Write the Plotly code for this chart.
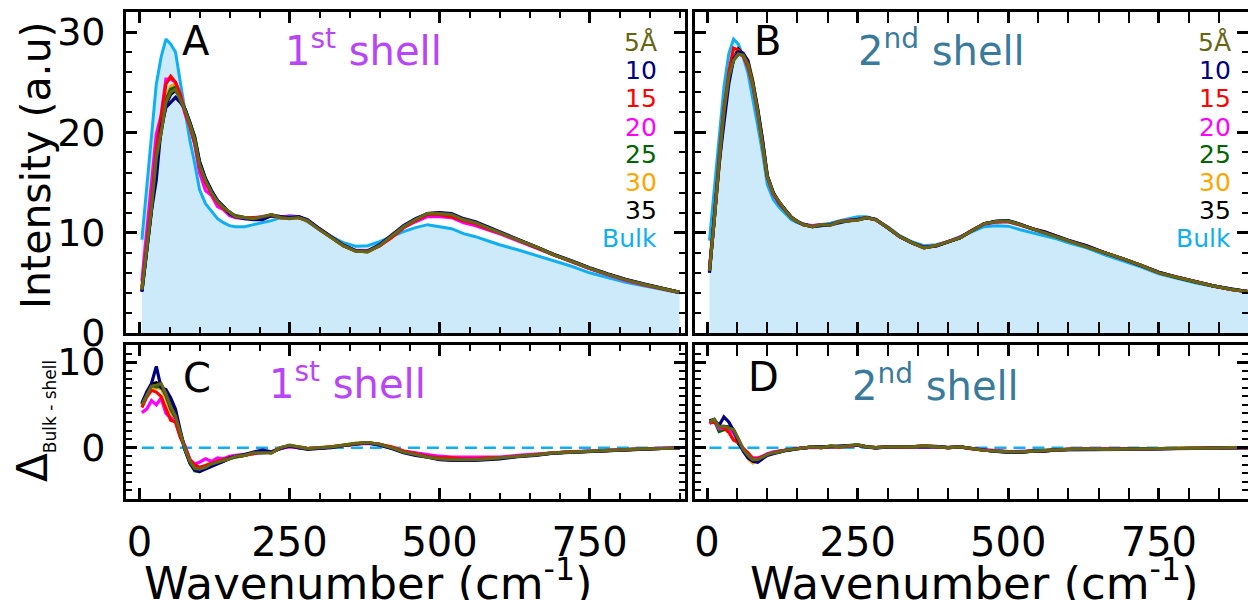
import plotly.graph_objects as go

# ---------------- data ----------------
wavenumber = [4, 12, 20, 28, 36, 44, 52, 60, 68, 76, 84, 92, 100, 110, 120, 130, 140, 150, 160, 175,
              190, 205, 220, 235, 250, 265, 280, 300, 320, 340, 360, 380, 400, 420, 440, 460, 480, 500,
              520, 540, 560, 580, 600, 630, 660, 690, 720, 750, 780, 810, 840, 870, 900]

shell_labels = ["5Å", "10", "15", "20", "25", "30", "35"]
shell_colors = ["#666614", "#000080", "#ff0000", "#ff00ff", "#006400", "#ffa500", "#000000"]
bulk_label = "Bulk"
bulk_color = "#0fb0f2"

# 1st shell spectra (panel A)
bulk_1 = [9.3, 14.5, 19.7, 24.8, 27.5, 29.3, 28.8, 28.0, 25.0, 22.0, 19.2, 16.9, 14.3, 12.9, 12.1, 11.4, 11.0, 10.7, 10.6, 10.6,
          10.8, 11.0, 11.2, 11.5, 11.7, 11.6, 11.1, 10.3, 9.6, 9.0, 8.65, 8.7, 9.1, 9.6, 10.1, 10.5, 10.8, 10.6,
          10.4, 9.9, 9.6, 9.2, 8.8, 8.3, 7.75, 7.2, 6.65, 6.0, 5.5, 5.05, 4.7, 4.35, 4.0]
s1_05 = [4.3, 8.3, 12.5, 17.5, 20.0, 23.0, 24.0, 24.3, 23.3, 22.2, 20.8, 19.3, 16.8, 15.2, 14.0, 13.1, 12.5, 12.0, 11.6, 11.5,
         11.4, 11.6, 11.8, 11.5, 11.4, 11.5, 11.2, 10.3, 9.5, 8.7, 8.15, 8.1, 8.7, 9.6, 10.6, 11.3, 11.9, 11.9,
         11.8, 11.3, 11.0, 10.5, 10.0, 9.3, 8.6, 7.8, 7.15, 6.45, 5.85, 5.3, 4.85, 4.45, 4.05]
s1_10 = [4.1, 8.0, 12.2, 15.3, 20.5, 22.5, 23.0, 23.5, 23.0, 22.3, 21.0, 19.5, 17.1, 15.4, 14.2, 13.2, 12.6, 11.9, 11.6, 11.4,
         11.3, 11.3, 11.7, 11.6, 11.5, 11.6, 11.3, 10.4, 9.6, 8.75, 8.2, 8.15, 8.8, 9.7, 10.7, 11.4, 11.9, 12.0,
         11.9, 11.4, 11.1, 10.6, 10.1, 9.35, 8.65, 7.85, 7.2, 6.5, 5.9, 5.35, 4.9, 4.45, 4.05]
s1_15 = [4.6, 8.6, 13.0, 18.3, 21.5, 24.8, 25.6, 25.0, 23.8, 22.0, 20.6, 18.9, 16.6, 15.0, 13.9, 13.0, 12.4, 11.9, 11.6, 11.5,
         11.5, 11.4, 11.7, 11.5, 11.5, 11.5, 11.2, 10.35, 9.5, 8.7, 8.2, 8.15, 8.7, 9.5, 10.5, 11.2, 11.8, 11.8,
         11.6, 11.2, 10.9, 10.4, 10.0, 9.3, 8.55, 7.8, 7.1, 6.45, 5.85, 5.3, 4.85, 4.45, 4.05]
s1_20 = [5.2, 10.0, 14.2, 19.8, 21.7, 25.3, 25.3, 25.0, 23.6, 21.8, 20.6, 18.8, 16.0, 14.2, 13.7, 12.6, 12.3, 11.7, 11.5, 11.4,
         11.5, 11.6, 11.7, 11.6, 11.6, 11.6, 11.2, 10.3, 9.55, 8.75, 8.2, 8.2, 8.7, 9.6, 10.5, 11.1, 11.6, 11.6,
         11.5, 11.0, 10.7, 10.3, 9.9, 9.2, 8.5, 7.75, 7.1, 6.4, 5.8, 5.25, 4.8, 4.4, 4.05]
s1_25 = [4.2, 8.4, 12.4, 17.7, 20.3, 23.2, 24.3, 24.5, 23.5, 22.2, 21.0, 19.6, 17.1, 15.3, 14.1, 13.2, 12.6, 12.0, 11.7, 11.5,
         11.4, 11.5, 11.7, 11.6, 11.5, 11.6, 11.2, 10.35, 9.55, 8.75, 8.2, 8.15, 8.75, 9.65, 10.6, 11.3, 11.85, 11.9,
         11.75, 11.3, 10.95, 10.5, 10.0, 9.3, 8.6, 7.8, 7.15, 6.45, 5.85, 5.3, 4.85, 4.45, 4.05]
s1_30 = [4.3, 8.5, 12.8, 17.8, 20.6, 23.5, 24.6, 24.8, 23.6, 22.0, 20.6, 19.0, 16.7, 15.0, 13.8, 13.0, 12.4, 11.9, 11.6, 11.5,
         11.4, 11.5, 11.7, 11.5, 11.5, 11.5, 11.2, 10.3, 9.5, 8.7, 8.15, 8.1, 8.7, 9.6, 10.6, 11.35, 11.9, 11.95,
         11.8, 11.35, 11.0, 10.5, 10.05, 9.3, 8.6, 7.8, 7.15, 6.45, 5.85, 5.3, 4.85, 4.45, 4.05]
s1_35 = [4.2, 8.3, 12.3, 17.2, 20.2, 22.8, 23.8, 24.2, 23.4, 22.3, 20.9, 19.3, 16.9, 15.2, 14.0, 13.1, 12.5, 12.0, 11.6, 11.5,
         11.4, 11.5, 11.8, 11.5, 11.5, 11.6, 11.2, 10.35, 9.5, 8.7, 8.2, 8.1, 8.7, 9.6, 10.6, 11.3, 11.9, 11.95,
         11.8, 11.3, 11.0, 10.5, 10.0, 9.3, 8.6, 7.8, 7.15, 6.45, 5.85, 5.3, 4.85, 4.45, 4.05]

# 2nd shell spectra (panel B)
bulk_2 = [9.2, 14.5, 19.5, 24.5, 27.8, 29.3, 28.8, 27.5, 25.9, 23.4, 20.7, 18.0, 14.8, 13.3, 12.5, 11.9, 11.3, 11.0, 10.8, 10.7,
          10.8, 10.95, 11.2, 11.4, 11.6, 11.6, 11.3, 10.6, 9.7, 9.1, 8.7, 8.8, 9.1, 9.6, 10.1, 10.6, 10.7, 10.65,
          10.3, 10.0, 9.7, 9.4, 9.0, 8.5, 7.8, 7.2, 6.6, 5.9, 5.45, 5.0, 4.65, 4.35, 4.1]
s2_05 = [6.2, 11.2, 17.1, 22.0, 25.5, 27.2, 27.8, 27.7, 26.8, 24.8, 22.1, 19.1, 15.6, 13.9, 13.0, 12.2, 11.5, 11.1, 10.8, 10.6,
         10.8, 10.75, 11.1, 11.2, 11.25, 11.5, 11.3, 10.5, 9.6, 9.0, 8.5, 8.7, 9.1, 9.5, 10.2, 10.9, 11.1, 11.15,
         10.8, 10.4, 10.05, 9.65, 9.2, 8.65, 8.0, 7.4, 6.75, 6.0, 5.55, 5.1, 4.7, 4.35, 4.1]
s2_10 = [6.0, 11.3, 16.9, 20.9, 24.8, 27.3, 28.0, 27.9, 27.1, 25.0, 22.4, 19.3, 15.7, 14.0, 13.0, 12.25, 11.55, 11.1, 10.85, 10.6,
         10.7, 10.8, 11.0, 11.2, 11.3, 11.5, 11.35, 10.5, 9.6, 9.0, 8.55, 8.65, 9.1, 9.5, 10.2, 10.9, 11.15, 11.2,
         10.85, 10.4, 10.1, 9.65, 9.25, 8.7, 8.0, 7.4, 6.75, 6.05, 5.55, 5.1, 4.7, 4.4, 4.1]
s2_15 = [6.3, 11.4, 17.0, 22.2, 26.0, 28.4, 28.2, 27.6, 26.5, 24.7, 22.0, 19.0, 15.6, 13.9, 12.9, 12.2, 11.5, 11.1, 10.8, 10.6,
         10.8, 10.8, 11.1, 11.2, 11.3, 11.5, 11.3, 10.5, 9.6, 9.0, 8.5, 8.7, 9.1, 9.5, 10.25, 10.9, 11.1, 11.1,
         10.8, 10.4, 10.1, 9.65, 9.2, 8.7, 8.0, 7.4, 6.75, 6.0, 5.55, 5.1, 4.7, 4.35, 4.1]
s2_20 = [6.4, 11.4, 17.3, 22.2, 25.6, 27.6, 27.9, 27.6, 26.6, 24.6, 21.9, 19.0, 15.5, 13.8, 12.9, 12.2, 11.5, 11.1, 10.8, 10.7,
         10.8, 10.8, 11.1, 11.25, 11.3, 11.5, 11.3, 10.5, 9.6, 9.0, 8.55, 8.7, 9.1, 9.55, 10.2, 10.85, 11.05, 11.1,
         10.75, 10.4, 10.05, 9.65, 9.2, 8.65, 8.0, 7.4, 6.75, 6.0, 5.55, 5.1, 4.7, 4.35, 4.1]
s2_25 = [6.2, 11.3, 17.6, 22.4, 25.4, 27.2, 27.8, 27.7, 26.8, 24.9, 22.1, 19.1, 15.6, 13.9, 13.0, 12.2, 11.5, 11.1, 10.8, 10.6,
         10.8, 10.8, 11.1, 11.2, 11.3, 11.5, 11.3, 10.5, 9.6, 9.0, 8.5, 8.7, 9.1, 9.5, 10.2, 10.9, 11.1, 11.15,
         10.8, 10.4, 10.05, 9.65, 9.2, 8.65, 8.0, 7.4, 6.75, 6.0, 5.55, 5.1, 4.7, 4.35, 4.1]
s2_30 = [6.2, 11.3, 17.0, 22.1, 25.6, 27.4, 27.9, 27.8, 27.2, 25.2, 22.2, 19.1, 15.6, 13.9, 13.0, 12.2, 11.5, 11.1, 10.8, 10.6,
         10.8, 10.8, 11.1, 11.2, 11.3, 11.5, 11.3, 10.5, 9.6, 9.0, 8.5, 8.7, 9.1, 9.5, 10.2, 10.9, 11.1, 11.15,
         10.8, 10.4, 10.05, 9.65, 9.2, 8.65, 8.0, 7.4, 6.75, 6.0, 5.55, 5.1, 4.7, 4.35, 4.1]
s2_35 = [6.1, 11.2, 17.0, 22.0, 25.4, 27.3, 28.3, 27.8, 26.9, 24.9, 22.2, 19.2, 15.6, 13.9, 13.0, 12.2, 11.5, 11.1, 10.8, 10.6,
         10.75, 10.8, 11.1, 11.2, 11.3, 11.5, 11.3, 10.5, 9.6, 9.0, 8.55, 8.7, 9.1, 9.5, 10.2, 10.9, 11.1, 11.15,
         10.8, 10.4, 10.05, 9.65, 9.2, 8.65, 8.0, 7.4, 6.75, 6.05, 5.55, 5.1, 4.7, 4.35, 4.1]

shells_1 = [s1_05, s1_10, s1_15, s1_20, s1_25, s1_30, s1_35]
shells_2 = [s2_05, s2_10, s2_15, s2_20, s2_25, s2_30, s2_35]

x_ticks = [0, 250, 500, 750]
y_ticks_top = [0, 10, 20, 30]
y_ticks_bottom = [0, 10]

# ---------------- figure ----------------
W, H = 1248, 600
FONT = "DejaVu Sans"
fig = go.Figure()

def px_x(p):
    return p / W

def px_y(p):
    return 1 - p / H

panels = {
    "A": dict(xa="x", ya="y"),
    "B": dict(xa="x2", ya="y2"),
    "C": dict(xa="x3", ya="y3"),
    "D": dict(xa="x4", ya="y4"),
}

draw_order = [6, 5, 4, 3, 2, 1, 0]  # 35 ... 5Å (5Å on top)

for key, bulk, shells in (("A", bulk_1, shells_1), ("B", bulk_2, shells_2)):
    p = panels[key]
    fig.add_trace(go.Scatter(x=wavenumber, y=bulk, mode="lines", xaxis=p["xa"], yaxis=p["ya"],
                             line=dict(color=bulk_color, width=3), fill="tozeroy",
                             fillcolor="#cdeafa", showlegend=False, name=bulk_label))
    for i in draw_order:
        fig.add_trace(go.Scatter(x=wavenumber, y=shells[i], mode="lines", xaxis=p["xa"], yaxis=p["ya"],
                                 line=dict(color=shell_colors[i], width=3.2), showlegend=False,
                                 name=shell_labels[i]))

for key, bulk, shells in (("C", bulk_1, shells_1), ("D", bulk_2, shells_2)):
    p = panels[key]
    zero = [b - b for b in bulk]
    fig.add_trace(go.Scatter(x=wavenumber, y=zero, mode="lines", xaxis=p["xa"], yaxis=p["ya"],
                             line=dict(color=bulk_color, width=2.5, dash="12px,7px"), showlegend=False))
    for i in draw_order:
        delta = [b - s for b, s in zip(bulk, shells[i])]
        fig.add_trace(go.Scatter(x=wavenumber, y=delta, mode="lines", xaxis=p["xa"], yaxis=p["ya"],
                                 line=dict(color=shell_colors[i], width=3.2), showlegend=False,
                                 name=shell_labels[i]))

xtickfont = dict(family=FONT, size=40, color="black")
ytickfont = dict(family=FONT, size=38, color="black")

def xaxis(domain, rng, labels):
    return dict(domain=domain, range=rng, tickvals=x_ticks, ticktext=[str(v) for v in x_ticks],
                showticklabels=labels, ticks="inside", ticklen=11, tickwidth=2.5, tickcolor="black",
                showline=True, linecolor="black", linewidth=2.8, mirror="allticks", automargin=False,
                showgrid=False, zeroline=False, tickfont=xtickfont, ticklabelstandoff=6,
                minor=dict(dtick=50, tick0=0, ticks="inside", ticklen=6, tickwidth=1.5, tickcolor="black",
                           showgrid=False))

def yaxis(domain, rng, ticks, minor_dtick, labels, mirror="allticks"):
    return dict(domain=domain, range=rng, tickvals=ticks, ticktext=[str(v) for v in ticks],
                showticklabels=labels, ticks="inside", ticklen=11, tickwidth=2.5, tickcolor="black",
                showline=True, linecolor="black", linewidth=2.8, mirror=mirror, automargin=False,
                showgrid=False, zeroline=False, tickfont=ytickfont, ticklabelstandoff=10,
                minor=dict(dtick=minor_dtick, tick0=0, ticks="inside", ticklen=6, tickwidth=1.5,
                           tickcolor="black", showgrid=False))

def right_ticks(overlay, anchor, rng, ticks, minor_dtick):
    # ticks on the (cut-off) right edge, without a visible spine
    return dict(overlaying=overlay, anchor=anchor, side="right", range=rng, tickvals=ticks,
                showticklabels=False, ticks="inside", ticklen=11, tickwidth=2.5, tickcolor="black",
                showline=False, showgrid=False, zeroline=False, automargin=False,
                minor=dict(dtick=minor_dtick, tick0=0, ticks="inside", ticklen=6, tickwidth=1.5,
                           tickcolor="black", showgrid=False))

left_dom = [px_x(126), px_x(685)]
right_dom = [px_x(695), 1.0]
top_dom = [px_y(333), px_y(12)]
bot_dom = [px_y(499), px_y(345)]
left_rng = [-22.5, 909]
right_rng = [-20, 898]

fig.update_layout(
    width=W, height=H, margin=dict(l=0, r=0, t=0, b=0, autoexpand=False),
    paper_bgcolor="white", plot_bgcolor="white", showlegend=False,
    font=dict(family=FONT, color="black"),
    xaxis=dict(**xaxis(left_dom, left_rng, False), anchor="y"),
    yaxis=dict(**yaxis(top_dom, [0, 32], y_ticks_top, 2, True), anchor="x"),
    xaxis2=dict(**xaxis(right_dom, right_rng, False), anchor="y2"),
    yaxis2=dict(**yaxis(top_dom, [0, 32], y_ticks_top, 2, False, mirror=False), anchor="x2"),
    xaxis3=dict(**xaxis(left_dom, left_rng, True), anchor="y3"),
    yaxis3=dict(**yaxis(bot_dom, [-6, 12], y_ticks_bottom, 1, True), anchor="x3"),
    xaxis4=dict(**xaxis(right_dom, right_rng, True), anchor="y4"),
    yaxis4=dict(**yaxis(bot_dom, [-6, 12], y_ticks_bottom, 1, False, mirror=False), anchor="x4"),
    yaxis5=right_ticks("y2", "x2", [0, 32], y_ticks_top, 2),
    yaxis6=right_ticks("y4", "x4", [-6, 12], y_ticks_bottom, 1),
)

# invisible carrier traces so that the right-edge tick axes are drawn
fig.add_trace(go.Scatter(x=wavenumber[:1], y=[None], xaxis="x2", yaxis="y5", mode="lines",
                         showlegend=False, hoverinfo="skip"))
fig.add_trace(go.Scatter(x=wavenumber[:1], y=[None], xaxis="x4", yaxis="y6", mode="lines",
                         showlegend=False, hoverinfo="skip"))

purple = "#b846f4"
teal = "#3a7b9c"
ann = []

def text(x, y, s, size, color="black", xanchor="center", angle=0):
    ann.append(dict(x=px_x(x), y=px_y(y), xref="paper", yref="paper", text=s, showarrow=False,
                    xanchor=xanchor, yanchor="middle", textangle=angle,
                    font=dict(family=FONT, size=size, color=color)))

# panel letters and shell titles
text(196, 41, "A", 40)
text(767, 41, "B", 40)
text(197, 378, "C", 40)
text(763, 377, "D", 40)
text(363, 48, "1<sup>st</sup> shell", 40, purple)
text(941, 48, "2<sup>nd</sup> shell", 40, teal)
text(347, 381, "1<sup>st</sup> shell", 40, purple)
text(935, 383, "2<sup>nd</sup> shell", 40, teal)

# legend text columns
leg_y = [43, 70, 98, 127, 155, 182, 210, 238]
for xr in (659, 1233):
    for i, lab in enumerate(shell_labels):
        text(xr, leg_y[i], lab, 25, shell_colors[i], xanchor="right")
    text(xr, leg_y[7], bulk_label, 25, bulk_color, xanchor="right")

# axis titles
text(36, 165, "Intensity (a.u)", 41, angle=-90)
text(34, 421, "Δ<sub><span style='font-size:17px'>Bulk - shell</span></sub>", 42, angle=-90)
text(368, 580, "Wavenumber (cm<sup>-1</sup>)", 45)
text(974, 580, "Wavenumber (cm<sup>-1</sup>)", 45)

fig.update_layout(annotations=ann)
fig.write_html("out.html")
